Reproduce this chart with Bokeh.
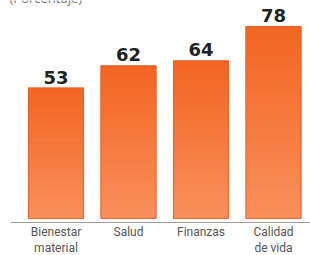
import numpy as np
from bokeh.plotting import figure
from bokeh.models import Range1d
from bokeh.core.properties import value
from bokeh.embed import file_html
from bokeh.resources import INLINE

categories = ["Bienestar\nmaterial", "Salud", "Finanzas", "Calidad\nde vida"]
values = [53, 62, 64, 78]
title_text = "(Porcentaje)"

W, H = 310, 255
x_px0, x_step = 55.5, 72.5
y_base_px, y_scale = 218.0, 192.0 / 78.0

p = figure(width=W, height=H, output_backend="svg", toolbar_location=None,
           x_range=Range1d(-x_px0 / x_step, (W - x_px0) / x_step),
           y_range=Range1d(-(H - y_base_px) / y_scale, y_base_px / y_scale),
           min_border=0, min_border_left=0, min_border_right=0,
           min_border_top=0, min_border_bottom=0)
p.axis.visible = False
p.grid.visible = False
p.outline_line_color = None
p.background_fill_color = "white"
p.border_fill_color = "white"

xs = list(range(len(categories)))
bw = 55.0 / x_step

# gradient bars: bands per bar
top_c = np.array([0xF2, 0x65, 0x22])
bot_c = np.array([0xF9, 0x90, 0x5C])
N = 40
bx, bb, bt, bc = [], [], [], []
for x, v in zip(xs, values):
    for k in range(N):
        f0, f1 = k / N, (k + 1) / N
        t = (f0 + f1) / 2
        c = bot_c + (top_c - bot_c) * t
        bx.append(x)
        bb.append(v * f0)
        bt.append(v * f1)
        bc.append("#%02x%02x%02x" % tuple(int(round(q)) for q in c))
p.vbar(x=bx, bottom=bb, top=bt, width=bw, fill_color=bc, line_color=bc,
       line_width=1)
p.vbar(x=xs, bottom=0, top=values, width=bw, fill_color=None,
       line_color="#e4602a", line_width=1.2, line_alpha=0.8)

# axis line
dy = 4.0 / y_scale
p.segment(x0=[-x_px0 / x_step + 10 / x_step], x1=[(W - x_px0) / x_step],
          y0=[-dy], y1=[-dy], line_color="#9a9a9a", line_width=1.2)

# value labels
p.text(x=xs, y=[v + 11.0 / y_scale for v in values],
       text=[str(v) for v in values], text_align="center",
       text_baseline="alphabetic",
       text_font=value("DejaVu Sans"), text_font_style="bold",
       text_font_size="18px", text_color="#222222")

# category labels
p.text(x=xs, y=[-6.0 / y_scale] * len(xs), text=categories, text_align="center",
       text_baseline="top", text_font=value("Roboto"),
       text_font_size="12px", text_color="#555555", text_line_height=1.15)

# title (cut off at top)
p.text(x=[-x_px0 / x_step + 9 / x_step], y=[(y_base_px + 3) / y_scale],
       text=[title_text], text_align="left", text_baseline="alphabetic",
       text_font=value("Open Sans"), text_font_size="13px", text_color="#777777")

open("out.html", "w").write(file_html(p, INLINE))
